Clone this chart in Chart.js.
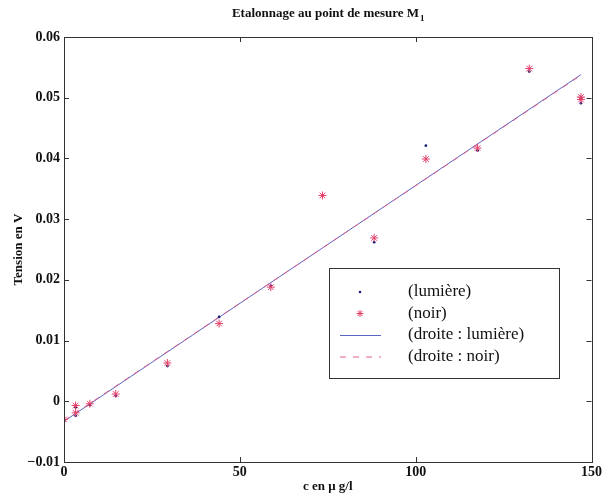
<!DOCTYPE html>
<html>
<head>
<meta charset="utf-8">
<script src="https://cdn.jsdelivr.net/npm/chart.js@4/dist/chart.umd.min.js"></script>
<style>
  html, body { margin: 0; padding: 0; background: #fff; }
  #wrap { width: 604px; height: 499px; }
</style>
</head>
<body>
<div id="wrap"><canvas id="chart" width="604" height="499"></canvas></div>
<script>
// concentration c (µg/l) for each measurement
const concentration = [0, 3.3, 3.3, 7.35, 14.7, 29.4, 44.1, 58.8, 73.5, 88.2, 102.9, 117.6, 132.3, 147, 147];
// measured voltage (V)
const lumiere = [-0.0033, -0.0010, -0.0024, -0.0006, 0.0009, 0.0058, 0.0139, 0.0190, 0.0339, 0.0262, 0.0421, 0.0413, 0.0543, 0.0491, 0.0500];
const noir    = [-0.0030, -0.0007, -0.0019, -0.0004, 0.0012, 0.0063, 0.0128, 0.0188, 0.0339, 0.0269, 0.0399, 0.0417, 0.0548, 0.0501, 0.0497];
// fitted lines (end points)
const droiteX = [0, 147];
const droiteLumiere = [-0.0033, 0.0538];
const droiteNoir = [-0.0032, 0.0537];

const xTicks = [0, 50, 100, 150];
const yTicks = [-0.01, 0, 0.01, 0.02, 0.03, 0.04, 0.05, 0.06];

const FONT = "'Liberation Serif', 'Times New Roman', serif";
const RED = '#e4406a';
const BLUE = '#1c2478';
const LINE_BLUE = '#5b63c4';
const LINE_RED = '#e0608a';

const pts = (xs, ys) => xs.map((x, i) => ({ x: x, y: ys[i] }));

function fmtY(v) {
    if (Math.abs(v) < 1e-9) return '0';
    const s = Math.abs(v).toFixed(2);
    return v < 0 ? '\u2212' + s : s;
}

// box, inward ticks, titles and the legend drawn inside the plot
const matlabLook = {
    id: 'matlabLook',
    afterDraw(chart) {
        const ctx = chart.ctx;
        const a = chart.chartArea;
        const xs = chart.scales.x, ys = chart.scales.y;
        ctx.save();
        ctx.strokeStyle = '#333';
        ctx.lineWidth = 1;
        ctx.strokeRect(Math.round(a.left) + 0.5, Math.round(a.top) + 0.5,
            Math.round(a.right - a.left), Math.round(a.bottom - a.top));
        ctx.beginPath();
        xTicks.forEach(v => {
            const px = Math.round(xs.getPixelForValue(v)) + 0.5;
            ctx.moveTo(px, a.bottom); ctx.lineTo(px, a.bottom - 5);
            ctx.moveTo(px, a.top); ctx.lineTo(px, a.top + 5);
        });
        yTicks.forEach(v => {
            const py = Math.round(ys.getPixelForValue(v)) + 0.5;
            ctx.moveTo(a.left, py); ctx.lineTo(a.left + 5, py);
            ctx.moveTo(a.right, py); ctx.lineTo(a.right - 5, py);
        });
        ctx.stroke();

        // title with subscript
        ctx.fillStyle = '#111';
        ctx.textBaseline = 'middle';
        ctx.font = 'bold 13px ' + FONT;
        const main = 'Etalonnage au point de mesure M';
        ctx.font = 'bold 13px ' + FONT;
        const w1 = ctx.measureText(main).width;
        ctx.font = 'bold 9px ' + FONT;
        const w2 = ctx.measureText('1').width;
        const cx = (a.left + a.right) / 2;
        let tx = cx - (w1 + w2) / 2;
        ctx.textAlign = 'left';
        ctx.font = 'bold 13px ' + FONT;
        ctx.fillText(main, tx, 14);
        ctx.font = 'bold 9px ' + FONT;
        ctx.fillText('1', tx + w1 + 1, 19);

        // axis titles
        ctx.font = 'bold 13px ' + FONT;
        ctx.textAlign = 'center';
        ctx.fillText('c en \u03bc g/l', cx, 487);
        ctx.save();
        ctx.translate(19, (a.top + a.bottom) / 2);
        ctx.rotate(-Math.PI / 2);
        ctx.fillText('Tension en V', 0, 0);
        ctx.restore();

        // legend
        const lx = a.left + 265, ly = a.top + 231, lw = 230, lh = 110;
        ctx.fillStyle = '#fff';
        ctx.fillRect(lx, ly, lw, lh);
        ctx.strokeStyle = '#333';
        ctx.strokeRect(lx + 0.5, ly + 0.5, lw, lh);
        const labels = chart.data.datasets.map(d => d.label);
        const rowY = [24, 45.5, 67, 88.5];
        ctx.font = '17px ' + FONT;
        ctx.textAlign = 'left';
        ctx.fillStyle = '#111';
        labels.forEach((t, i) => ctx.fillText(t, lx + 79, ly + rowY[i]));
        const sx = lx + 31;
        // dot
        ctx.fillStyle = BLUE;
        ctx.beginPath(); ctx.arc(sx, ly + rowY[0], 1.3, 0, Math.PI * 2); ctx.fill();
        // star
        ctx.strokeStyle = RED;
        ctx.lineWidth = 1;
        ctx.beginPath();
        const r = 3.5, sy = ly + rowY[1];
        for (let k = 0; k < 4; k++) {
            const ang = k * Math.PI / 4;
            ctx.moveTo(sx - r * Math.cos(ang), sy - r * Math.sin(ang));
            ctx.lineTo(sx + r * Math.cos(ang), sy + r * Math.sin(ang));
        }
        ctx.stroke();
        // solid line
        ctx.strokeStyle = LINE_BLUE;
        ctx.beginPath();
        ctx.moveTo(sx - 20, ly + rowY[2] + 0.5); ctx.lineTo(sx + 21, ly + rowY[2] + 0.5);
        ctx.stroke();
        // dashed line
        ctx.strokeStyle = LINE_RED;
        ctx.setLineDash([6, 7]);
        ctx.beginPath();
        ctx.moveTo(sx - 20, ly + rowY[3] + 0.5); ctx.lineTo(sx + 21, ly + rowY[3] + 0.5);
        ctx.stroke();
        ctx.setLineDash([]);
        ctx.restore();
    }
};

new Chart(document.getElementById('chart'), {
    type: 'scatter',
    data: {
        datasets: [
            {
                label: '(lumi\u00e8re)',
                data: pts(concentration, lumiere),
                pointStyle: 'circle',
                pointRadius: 1.4,
                backgroundColor: BLUE,
                borderColor: BLUE,
                borderWidth: 0,
                order: 1
            },
            {
                label: '(noir)',
                data: pts(concentration, noir),
                pointStyle: 'star',
                pointRadius: 4,
                borderColor: RED,
                backgroundColor: RED,
                borderWidth: 1,
                order: 0
            },
            {
                label: '(droite : lumi\u00e8re)',
                data: pts(droiteX, droiteLumiere),
                showLine: true,
                pointRadius: 0,
                borderColor: LINE_BLUE,
                borderWidth: 1,
                order: 3
            },
            {
                label: '(droite : noir)',
                data: pts(droiteX, droiteNoir),
                showLine: true,
                pointRadius: 0,
                borderColor: LINE_RED,
                borderWidth: 1,
                borderDash: [6, 6],
                order: 2
            }
        ]
    },
    options: {
        responsive: false,
        animation: false,
        layout: { padding: { top: 37, right: 12, left: 0, bottom: 0 } },
        plugins: {
            legend: { display: false },
            title: { display: false },
            tooltip: { enabled: false }
        },
        scales: {
            x: {
                type: 'linear',
                min: 0,
                max: 150,
                afterFit: s => { s.height = 37; },
                afterBuildTicks: s => { s.ticks = xTicks.map(v => ({ value: v })); },
                grid: { display: false, drawTicks: false },
                border: { display: false },
                ticks: {
                    padding: 2,
                    color: '#111',
                    font: { family: FONT, size: 14, weight: 'bold' }
                }
            },
            y: {
                type: 'linear',
                min: -0.01,
                max: 0.06,
                afterFit: s => { s.width = 64; },
                afterBuildTicks: s => { s.ticks = yTicks.map(v => ({ value: v })); },
                grid: { display: false, drawTicks: false },
                border: { display: false },
                ticks: {
                    padding: 4,
                    color: '#111',
                    font: { family: FONT, size: 14, weight: 'bold' },
                    callback: v => fmtY(v)
                }
            }
        }
    },
    plugins: [matlabLook]
});
</script>
</body>
</html>
